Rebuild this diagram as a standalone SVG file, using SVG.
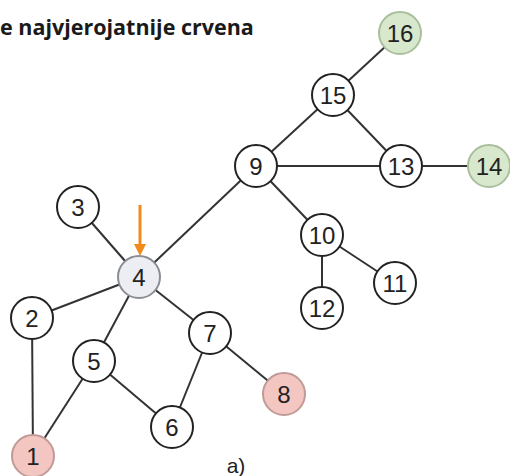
<svg xmlns="http://www.w3.org/2000/svg" width="510" height="476" viewBox="0 0 510 476">
<style>
.e{stroke:#333;stroke-width:2;fill:none}
.n circle{fill:#fff;stroke:#222;stroke-width:2}
.n text{font-family:"Liberation Sans",Arial,sans-serif;font-size:24px;fill:#222;text-anchor:middle;dominant-baseline:central}
.red circle{fill:#f3c6c2;stroke:#c09a96}
.green circle{fill:#d8e8cc;stroke:#a9bf9c}
.gray circle{fill:#eceef3;stroke:#8a8d94}
</style>
<defs>
<marker id="ah" viewBox="0 0 10 10" refX="5" refY="5" markerWidth="4" markerHeight="4" orient="auto"><path d="M0,0 L10,5 L0,10 z" fill="#f08a1c"/></marker>
</defs>
<rect width="510" height="476" fill="#fff"/>
<text x="0" y="35" font-family="'Open Sans','Noto Sans',sans-serif" font-weight="bold" font-size="21.5" fill="#1a1a1a">e najvjerojatnije crvena</text>
<g id="edges">
<line class="e" x1="400" y1="33" x2="333" y2="95"/>
<line class="e" x1="333" y1="95" x2="256" y2="166"/>
<line class="e" x1="333" y1="95" x2="401" y2="166"/>
<line class="e" x1="256" y1="166" x2="401" y2="166"/>
<line class="e" x1="401" y1="166" x2="489" y2="166"/>
<line class="e" x1="256" y1="166" x2="139" y2="277"/>
<line class="e" x1="256" y1="166" x2="322" y2="235"/>
<line class="e" x1="322" y1="235" x2="395" y2="283"/>
<line class="e" x1="322" y1="235" x2="322" y2="308"/>
<line class="e" x1="78" y1="207" x2="139" y2="277"/>
<line class="e" x1="139" y1="277" x2="32" y2="318"/>
<line class="e" x1="139" y1="277" x2="94" y2="361"/>
<line class="e" x1="139" y1="277" x2="210" y2="333"/>
<line class="e" x1="32" y1="318" x2="33" y2="456"/>
<line class="e" x1="94" y1="361" x2="33" y2="456"/>
<line class="e" x1="94" y1="361" x2="172" y2="427"/>
<line class="e" x1="210" y1="333" x2="172" y2="427"/>
<line class="e" x1="210" y1="333" x2="284" y2="394"/>
<line x1="140" y1="205" x2="140" y2="250" stroke="#f08a1c" stroke-width="3" marker-end="url(#ah)"/>
</g>
<g id="n16" class="n green"><circle cx="400" cy="33" r="21"/><text x="400" y="33">16</text></g>
<g id="n15" class="n"><circle cx="333" cy="95" r="21"/><text x="333" y="95">15</text></g>
<g id="n9" class="n"><circle cx="256" cy="166" r="21"/><text x="256" y="166">9</text></g>
<g id="n13" class="n"><circle cx="401" cy="166" r="21"/><text x="401" y="166">13</text></g>
<g id="n14" class="n green"><circle cx="489" cy="166" r="21"/><text x="489" y="166">14</text></g>
<g id="n3" class="n"><circle cx="78" cy="207" r="21"/><text x="78" y="207">3</text></g>
<g id="n10" class="n"><circle cx="322" cy="235" r="21"/><text x="322" y="235">10</text></g>
<g id="n4" class="n gray"><circle cx="139" cy="277" r="21"/><text x="139" y="277">4</text></g>
<g id="n11" class="n"><circle cx="395" cy="283" r="21"/><text x="395" y="283">11</text></g>
<g id="n2" class="n"><circle cx="32" cy="318" r="21"/><text x="32" y="318">2</text></g>
<g id="n12" class="n"><circle cx="322" cy="308" r="21"/><text x="322" y="308">12</text></g>
<g id="n7" class="n"><circle cx="210" cy="333" r="21"/><text x="210" y="333">7</text></g>
<g id="n5" class="n"><circle cx="94" cy="361" r="21"/><text x="94" y="361">5</text></g>
<g id="n8" class="n red"><circle cx="284" cy="394" r="21"/><text x="284" y="394">8</text></g>
<g id="n6" class="n"><circle cx="172" cy="427" r="21"/><text x="172" y="427">6</text></g>
<g id="n1" class="n red"><circle cx="33" cy="456" r="21"/><text x="33" y="456">1</text></g>
<text x="236" y="473" font-family="'Liberation Sans',Arial,sans-serif" font-size="21" fill="#222" text-anchor="middle">a)</text>
</svg>
